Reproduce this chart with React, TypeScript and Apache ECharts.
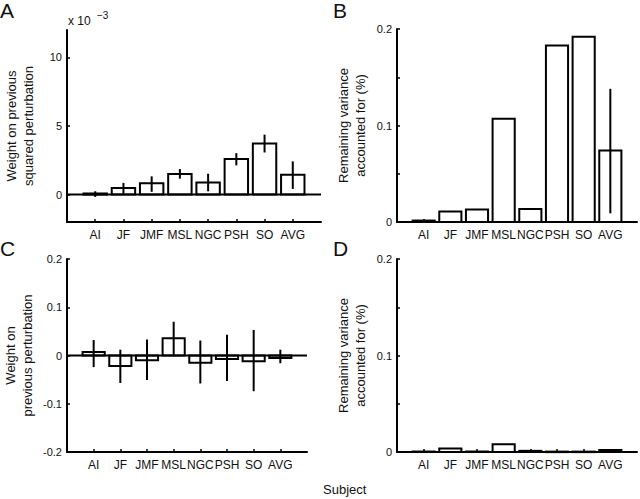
import React, { useEffect, useRef } from 'react';
import * as echarts from 'echarts';

const subjects = ['AI', 'JF', 'JMF', 'MSL', 'NGC', 'PSH', 'SO', 'AVG'];
const axisCats = ['', ...subjects, ''];

// Panel A (x 10^-3)
const aMean = [0.08, 0.48, 0.82, 1.5, 0.88, 2.6, 3.72, 1.45];
const aLow = [-0.17, 0.05, 0.2, 1.16, 0.24, 2.13, 3.07, 0.41];
const aHigh = [0.24, 0.85, 1.33, 1.86, 1.52, 3.02, 4.37, 2.42];

// Panel B
const bMean = [0.0015, 0.011, 0.013, 0.107, 0.0135, 0.183, 0.192, 0.074];
const bLow = [null, null, null, null, null, null, null, 0.009];
const bHigh = [null, null, null, null, null, null, null, 0.138];

// Panel C
const cMean = [0.007, -0.022, -0.01, 0.036, -0.015, -0.007, -0.012, -0.005];
const cLow = [-0.024, -0.057, -0.051, 0.0, -0.058, -0.053, -0.074, -0.016];
const cHigh = [0.032, 0.012, 0.033, 0.07, 0.031, 0.043, 0.053, 0.012];

// Panel D
const dMean = [0.0005, 0.0035, 0.0005, 0.008, 0.0012, 0.0004, 0.0004, 0.0022];

const aTicks = [0, 5, 10];
const bdTicks = [0, 0.05, 0.1, 0.15, 0.2];
const bdLabels = [0, 0.1, 0.2];
const zeroLine = axisCats.map(() => 0);

const FONT = 'Liberation Sans, Arial, Helvetica, sans-serif';

function build(mean: number[], low: (number | null)[], high: (number | null)[]) {
  return mean.map((v, i) => [i + 1, v, low[i] == null ? NaN : low[i], high[i] == null ? NaN : high[i]]);
}

function renderBar(params: any, api: any) {
  const x = api.value(0);
  const v = api.value(1);
  const lo = api.value(2);
  const hi = api.value(3);
  const base = api.coord([x, 0]);
  const top = api.coord([x, v]);
  const w = api.size([1, 0])[0] * 0.83;
  const children: any[] = [
    {
      type: 'rect',
      shape: {
        x: base[0] - w / 2,
        y: Math.min(base[1], top[1]),
        width: w,
        height: Math.max(Math.abs(base[1] - top[1]), 0.5),
      },
      style: { fill: '#fff', stroke: '#000', lineWidth: 2 },
    },
  ];
  if (lo != null && hi != null && !isNaN(lo) && !isNaN(hi)) {
    const p1 = api.coord([x, lo]);
    const p2 = api.coord([x, hi]);
    children.push({
      type: 'line',
      shape: { x1: p1[0], y1: p1[1], x2: p2[0], y2: p2[1] },
      style: { stroke: '#000', lineWidth: 2 },
    });
  }
  return { type: 'group', children };
}

function xAxis(gridIndex: number) {
  return {
    gridIndex,
    type: 'category',
    data: axisCats,
    boundaryGap: false,
    axisLine: { show: true, onZero: false, lineStyle: { color: '#000', width: 2 } },
    axisTick: {
      show: true,
      inside: true,
      length: 3,
      interval: (_i: number, v: string) => v !== '',
      lineStyle: { color: '#000', width: 1.5 },
    },
    axisLabel: { interval: 0, fontSize: 12, color: '#111', margin: 7, fontFamily: FONT },
    splitLine: { show: false },
  };
}

const nameStyle = { fontSize: 13, color: '#111', fontFamily: FONT, lineHeight: 17 };

export default function App() {
  const ref = useRef<HTMLDivElement>(null);
  useEffect(() => {
    if (!ref.current) return;
    const chart = echarts.init(ref.current, undefined, { renderer: 'svg' });
    const yBase = {
      type: 'value',
      axisLine: { show: true, onZero: false, lineStyle: { color: '#000', width: 2 } },
      splitLine: { show: false },
      nameLocation: 'middle',
      nameRotate: 90,
      nameTextStyle: nameStyle,
    };
    chart.setOption({
      animation: false,
      backgroundColor: '#fff',
      textStyle: { fontFamily: FONT },
      grid: [
        { left: 67, top: 30, width: 254, height: 192 },
        { left: 397, top: 29, width: 243, height: 193 },
        { left: 67, top: 259, width: 240, height: 193 },
        { left: 397, top: 259, width: 243, height: 193 },
      ],
      xAxis: [xAxis(0), xAxis(1), xAxis(2), xAxis(3)],
      yAxis: [
        {
          ...yBase,
          gridIndex: 0,
          min: -2,
          max: 12,
          name: 'Weight on previous\nsquared perturbation',
          nameGap: 30,
          axisTick: { show: true, inside: true, length: 3, customValues: aTicks, lineStyle: { color: '#000', width: 1.5 } },
          axisLabel: { customValues: aTicks, fontSize: 11, color: '#111', margin: 5, fontFamily: FONT },
        },
        {
          ...yBase,
          gridIndex: 1,
          min: 0,
          max: 0.2,
          name: 'Remaining variance\naccounted for (%)',
          nameGap: 28,
          axisTick: { show: true, inside: true, length: 3, customValues: bdTicks, lineStyle: { color: '#000', width: 1.5 } },
          axisLabel: { customValues: bdLabels, fontSize: 11, color: '#111', margin: 5, fontFamily: FONT },
        },
        {
          ...yBase,
          gridIndex: 2,
          min: -0.2,
          max: 0.2,
          interval: 0.1,
          name: 'Weight on\nprevious perturbation',
          nameGap: 31,
          axisTick: { show: true, inside: true, length: 3, lineStyle: { color: '#000', width: 1.5 } },
          axisLabel: { fontSize: 11, color: '#111', margin: 5, fontFamily: FONT },
        },
        {
          ...yBase,
          gridIndex: 3,
          min: 0,
          max: 0.2,
          name: 'Remaining variance\naccounted for (%)',
          nameGap: 28,
          axisTick: { show: true, inside: true, length: 3, customValues: bdTicks, lineStyle: { color: '#000', width: 1.5 } },
          axisLabel: { customValues: bdLabels, fontSize: 11, color: '#111', margin: 5, fontFamily: FONT },
        },
      ],
      series: [
        { type: 'custom', xAxisIndex: 0, yAxisIndex: 0, renderItem: renderBar, data: build(aMean, aLow, aHigh), clip: false },
        { type: 'line', xAxisIndex: 0, yAxisIndex: 0, data: zeroLine, symbol: 'none', lineStyle: { color: '#000', width: 2 }, z: 5 },
        { type: 'custom', xAxisIndex: 1, yAxisIndex: 1, renderItem: renderBar, data: build(bMean, bLow, bHigh), clip: false },
        { type: 'custom', xAxisIndex: 2, yAxisIndex: 2, renderItem: renderBar, data: build(cMean, cLow, cHigh), clip: false },
        { type: 'line', xAxisIndex: 2, yAxisIndex: 2, data: zeroLine, symbol: 'none', lineStyle: { color: '#000', width: 2 }, z: 5 },
        {
          type: 'custom',
          xAxisIndex: 3,
          yAxisIndex: 3,
          renderItem: renderBar,
          data: build(dMean, dMean.map(() => null), dMean.map(() => null)),
          clip: false,
        },
      ],
      graphic: [
        { type: 'text', left: 0, top: 0, style: { text: 'A', fontSize: 21, fill: '#111', fontFamily: FONT } },
        { type: 'text', left: 333, top: 0, style: { text: 'B', fontSize: 21, fill: '#111', fontFamily: FONT } },
        { type: 'text', left: 0, top: 238, style: { text: 'C', fontSize: 21, fill: '#111', fontFamily: FONT } },
        { type: 'text', left: 333, top: 238, style: { text: 'D', fontSize: 21, fill: '#111', fontFamily: FONT } },
        { type: 'text', left: 68, top: 15, style: { text: 'x 10', fontSize: 12, fill: '#111', fontFamily: FONT } },
        { type: 'text', left: 97, top: 10, style: { text: '\u22123', fontSize: 10, fill: '#111', fontFamily: FONT } },
        { type: 'text', left: 323, top: 483, style: { text: 'Subject', fontSize: 13, fill: '#111', fontFamily: FONT } },
      ],
    });
    return () => chart.dispose();
  }, []);
  return <div ref={ref} style={{ position: 'absolute', left: 0, top: 0, width: 640, height: 499 }} />;
}
